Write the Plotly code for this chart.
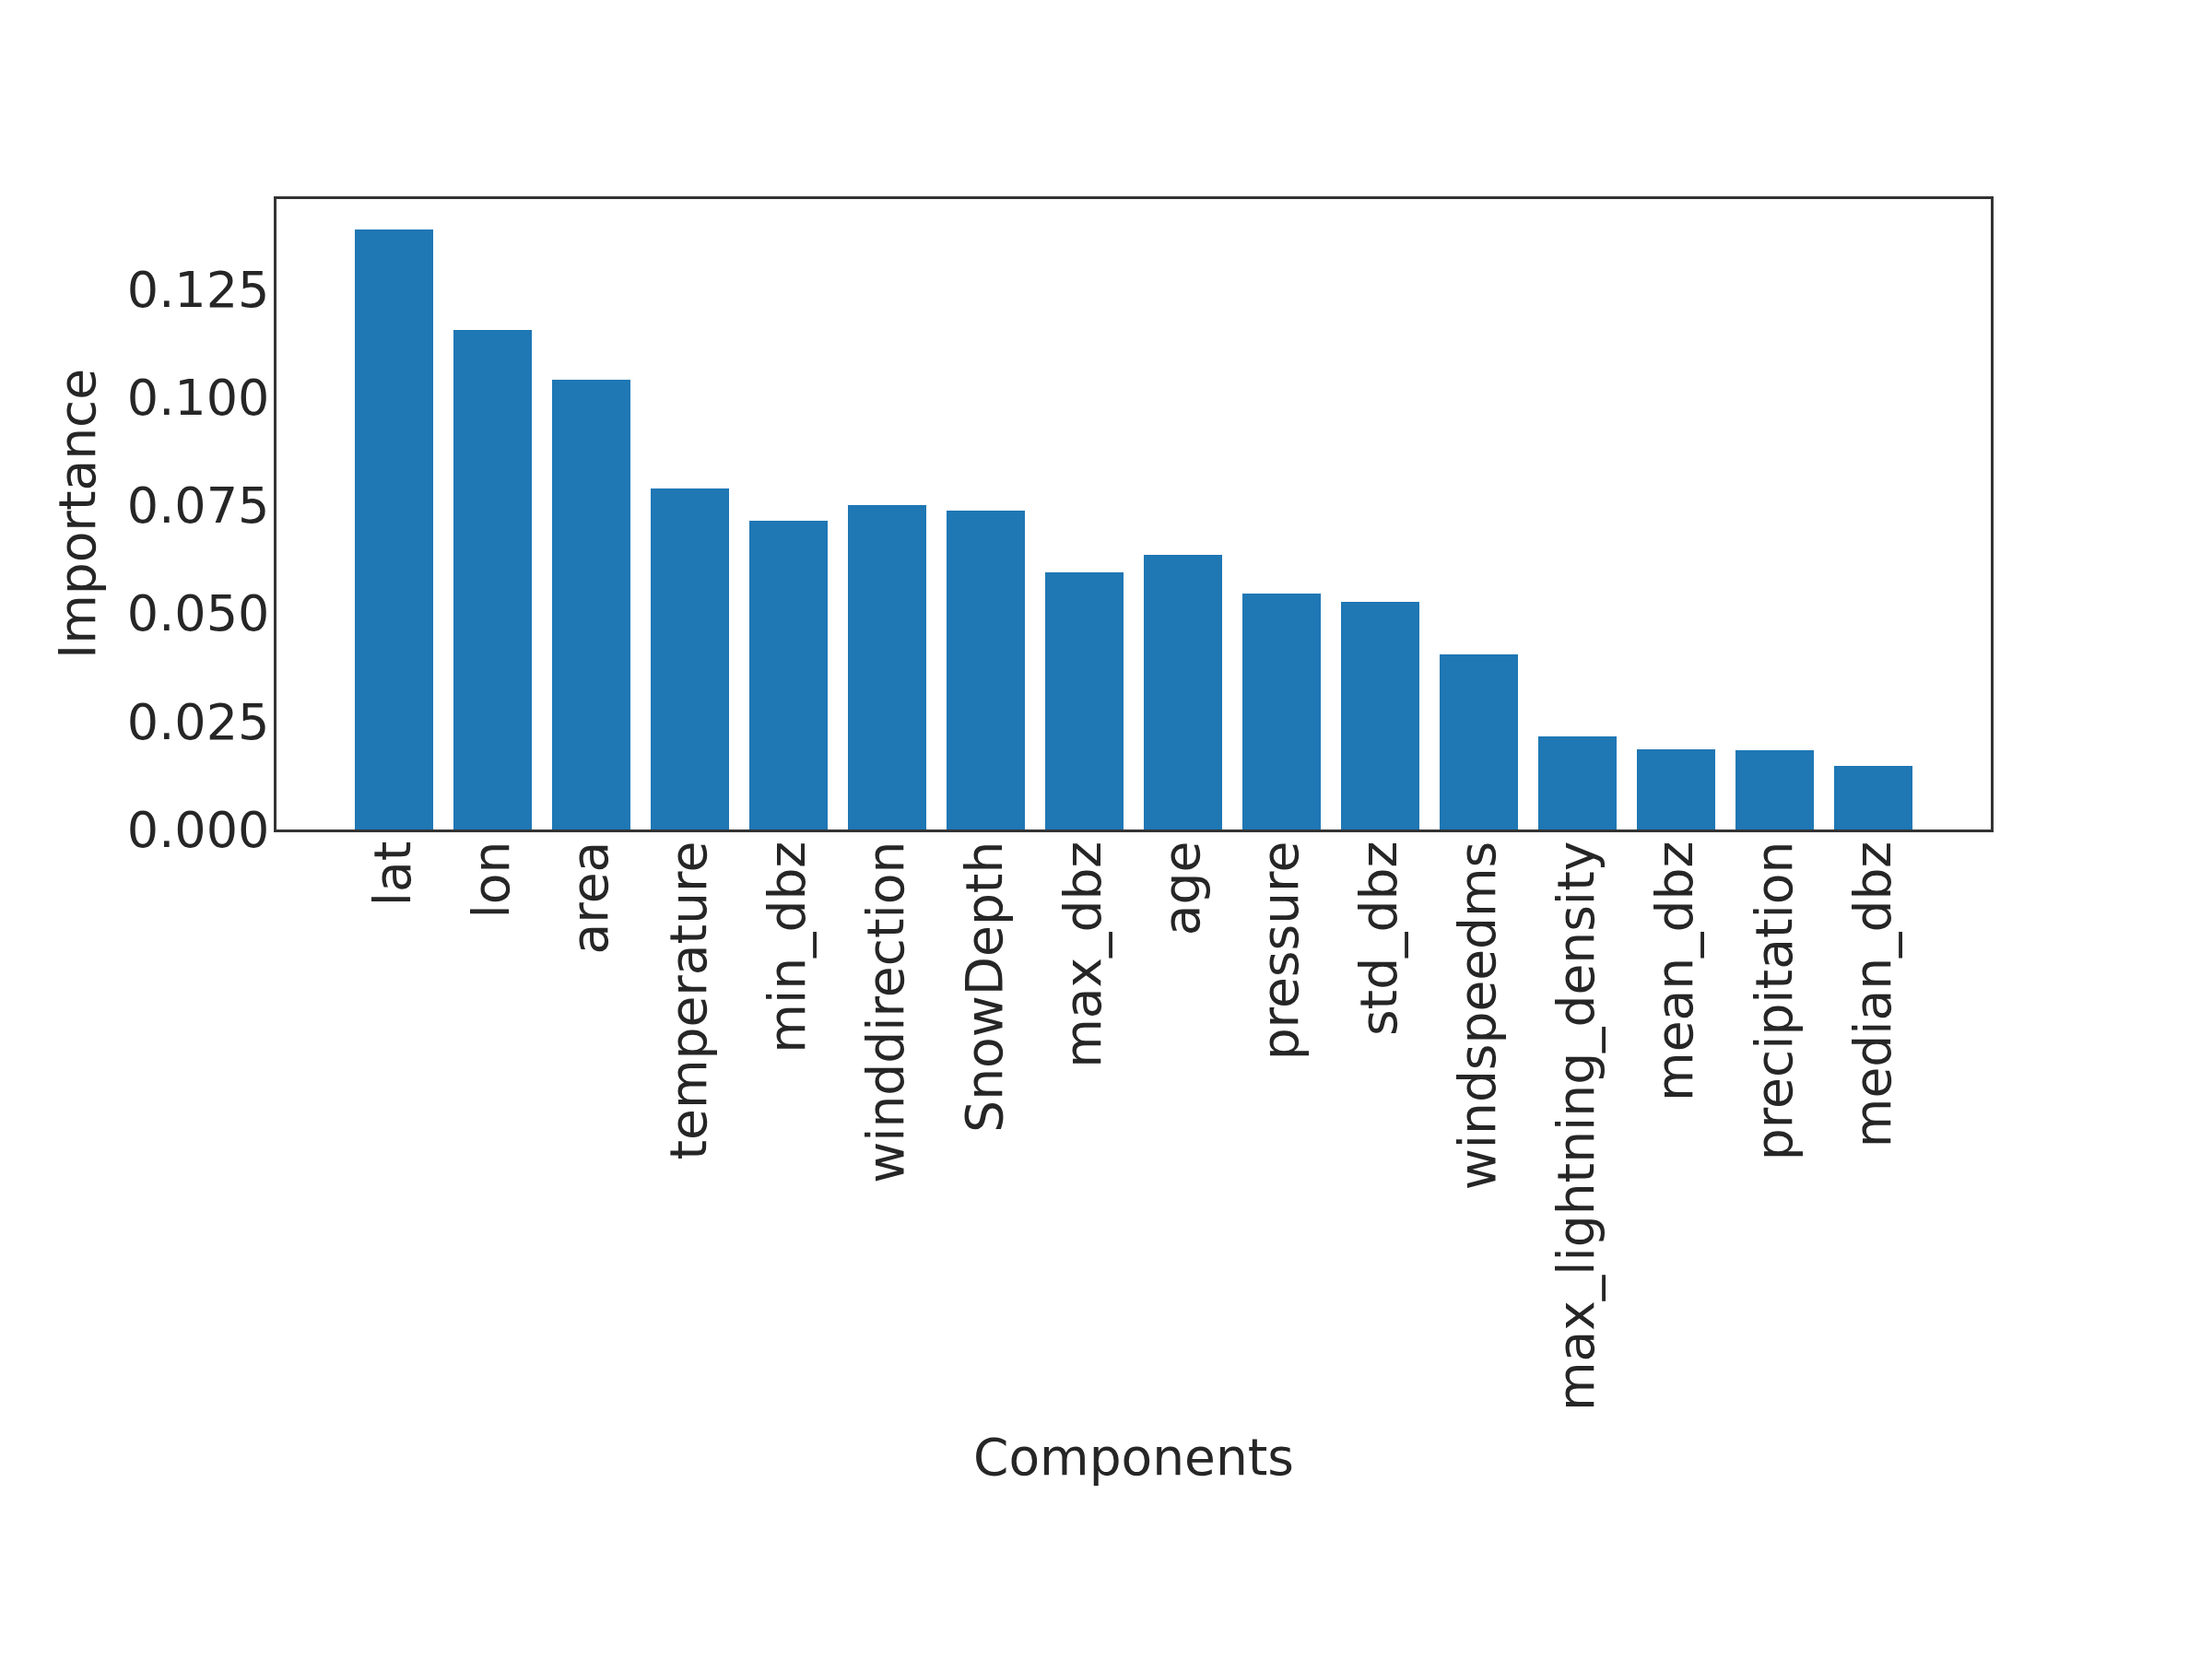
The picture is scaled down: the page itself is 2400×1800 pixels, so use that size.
import plotly.graph_objects as go

components = ["lat", "lon", "area", "temperature", "min_dbz", "winddirection",
              "SnowDepth", "max_dbz", "age", "pressure", "std_dbz", "windspeedms",
              "max_lightning_density", "mean_dbz", "precipitation", "median_dbz"]
importance = [0.1389, 0.1156, 0.1041, 0.0789, 0.0714, 0.0751,
              0.0738, 0.0595, 0.0635, 0.0546, 0.0527, 0.0405,
              0.0215, 0.0186, 0.0183, 0.0147]
y_ticks = [0.0, 0.025, 0.05, 0.075, 0.1, 0.125]

W, H = 2400, 1800
L, R, T, B = 300, 2160, 216, 900
FONT = "DejaVu Sans"
TXT = "#262626"

x_idx = list(range(len(components)))
ymax = max(importance) * 1.05
n = len(components)
pad = (n - 1 + 0.8) * 0.05

fig = go.Figure(go.Bar(x=x_idx, y=importance, width=0.8,
                       marker=dict(color="#1f77b4", line=dict(width=0))))

fig.update_layout(
    width=W, height=H,
    margin=dict(l=L, r=W - R, t=T, b=H - B, autoexpand=False),
    paper_bgcolor="white", plot_bgcolor="white",
    font=dict(family=FONT, size=54, color=TXT),
    showlegend=False,
    bargap=0,
)
fig.update_xaxes(
    range=[-0.4 - pad, n - 1 + 0.4 + pad],
    tickmode="array", tickvals=x_idx, ticktext=components,
    tickangle=-90, ticks="", showgrid=False, zeroline=False,
    showline=True, linecolor="#333333", linewidth=2.5, mirror=True,
    tickfont=dict(family=FONT, size=55, color=TXT),
    ticklabelstandoff=-12,
    automargin=False,
)
fig.update_yaxes(
    range=[0, ymax],
    tickmode="array", tickvals=y_ticks, ticktext=[f"{v:.3f}" for v in y_ticks],
    ticks="", showgrid=False, zeroline=False,
    showline=True, linecolor="#333333", linewidth=2.5, mirror=True,
    tickfont=dict(family=FONT, size=54, color=TXT),
    ticklabelstandoff=-6,
    automargin=False,
)
fig.add_annotation(text="Components", xref="paper", yref="paper",
                   x=0.5, y=-(1581 - B) / (B - T), xanchor="center", yanchor="middle",
                   showarrow=False, font=dict(family=FONT, size=55, color=TXT))
fig.add_annotation(text="Importance", xref="paper", yref="paper",
                   x=(84 - L) / (R - L), y=0.5, xanchor="center", yanchor="middle",
                   textangle=-90, showarrow=False,
                   font=dict(family=FONT, size=55, color=TXT))

fig.write_html("out.html")
